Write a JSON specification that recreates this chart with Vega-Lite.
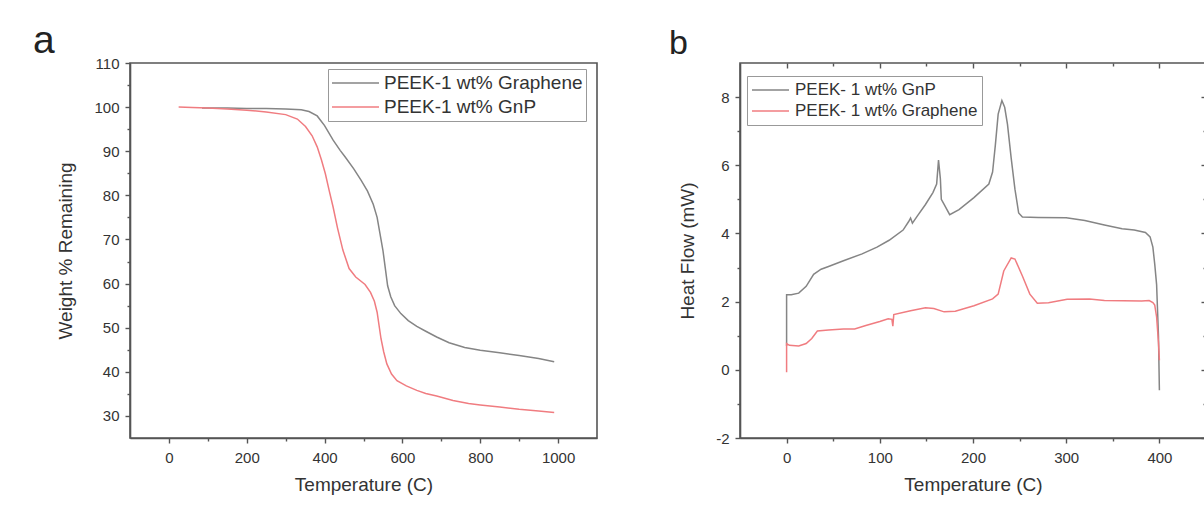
{
  "$schema": "https://vega.github.io/schema/vega-lite/v6.json",
  "background": "white",
  "padding": {"left": 32, "top": 21, "right": 0, "bottom": 0},
  "config": {
    "font": "Liberation Sans",
    "view": {"stroke": "#555", "strokeWidth": 1.6},
    "axis": {
      "grid": false,
      "domainColor": "#555", "domainWidth": 1.6,
      "tickColor": "#555", "tickWidth": 1.4,
      "labelFont": "Liberation Sans", "labelFontSize": 15, "labelColor": "#333",
      "titleFont": "Liberation Sans", "titleFontSize": 19, "titleFontWeight": "normal", "titleColor": "#333"
    },
    "legend": {
      "labelFont": "Liberation Sans", "labelColor": "#333", "labelLimit": 400,
      "strokeColor": "#999", "fillColor": "white", "symbolStrokeWidth": 1.5, "symbolType": "stroke", "symbolOffset": 0
    }
  },
  "datasets": {
    "tga": [
      {"series": "PEEK-1 wt% Graphene", "temp": 85, "weight": 99.8},
      {"series": "PEEK-1 wt% Graphene", "temp": 150, "weight": 99.8},
      {"series": "PEEK-1 wt% Graphene", "temp": 200, "weight": 99.7},
      {"series": "PEEK-1 wt% Graphene", "temp": 250, "weight": 99.7},
      {"series": "PEEK-1 wt% Graphene", "temp": 300, "weight": 99.6},
      {"series": "PEEK-1 wt% Graphene", "temp": 340, "weight": 99.4},
      {"series": "PEEK-1 wt% Graphene", "temp": 360, "weight": 99.0},
      {"series": "PEEK-1 wt% Graphene", "temp": 381, "weight": 98.0},
      {"series": "PEEK-1 wt% Graphene", "temp": 400, "weight": 95.8},
      {"series": "PEEK-1 wt% Graphene", "temp": 422, "weight": 92.5},
      {"series": "PEEK-1 wt% Graphene", "temp": 440, "weight": 90.2},
      {"series": "PEEK-1 wt% Graphene", "temp": 453, "weight": 88.7},
      {"series": "PEEK-1 wt% Graphene", "temp": 475, "weight": 86.0},
      {"series": "PEEK-1 wt% Graphene", "temp": 494, "weight": 83.4},
      {"series": "PEEK-1 wt% Graphene", "temp": 510, "weight": 81.0},
      {"series": "PEEK-1 wt% Graphene", "temp": 525, "weight": 78.0},
      {"series": "PEEK-1 wt% Graphene", "temp": 535, "weight": 75.0},
      {"series": "PEEK-1 wt% Graphene", "temp": 542, "weight": 71.5},
      {"series": "PEEK-1 wt% Graphene", "temp": 550, "weight": 67.5},
      {"series": "PEEK-1 wt% Graphene", "temp": 556, "weight": 63.5},
      {"series": "PEEK-1 wt% Graphene", "temp": 562, "weight": 59.5},
      {"series": "PEEK-1 wt% Graphene", "temp": 570, "weight": 57.0},
      {"series": "PEEK-1 wt% Graphene", "temp": 580, "weight": 55.0},
      {"series": "PEEK-1 wt% Graphene", "temp": 596, "weight": 53.2},
      {"series": "PEEK-1 wt% Graphene", "temp": 615, "weight": 51.6},
      {"series": "PEEK-1 wt% Graphene", "temp": 637, "weight": 50.3},
      {"series": "PEEK-1 wt% Graphene", "temp": 660, "weight": 49.2},
      {"series": "PEEK-1 wt% Graphene", "temp": 688, "weight": 47.9},
      {"series": "PEEK-1 wt% Graphene", "temp": 720, "weight": 46.6},
      {"series": "PEEK-1 wt% Graphene", "temp": 760, "weight": 45.5},
      {"series": "PEEK-1 wt% Graphene", "temp": 800, "weight": 44.9},
      {"series": "PEEK-1 wt% Graphene", "temp": 850, "weight": 44.3},
      {"series": "PEEK-1 wt% Graphene", "temp": 900, "weight": 43.7},
      {"series": "PEEK-1 wt% Graphene", "temp": 950, "weight": 43.0},
      {"series": "PEEK-1 wt% Graphene", "temp": 990, "weight": 42.3},
      {"series": "PEEK-1 wt% GnP", "temp": 25, "weight": 100.0},
      {"series": "PEEK-1 wt% GnP", "temp": 60, "weight": 99.9},
      {"series": "PEEK-1 wt% GnP", "temp": 100, "weight": 99.8},
      {"series": "PEEK-1 wt% GnP", "temp": 150, "weight": 99.6},
      {"series": "PEEK-1 wt% GnP", "temp": 200, "weight": 99.3},
      {"series": "PEEK-1 wt% GnP", "temp": 250, "weight": 98.9},
      {"series": "PEEK-1 wt% GnP", "temp": 300, "weight": 98.3},
      {"series": "PEEK-1 wt% GnP", "temp": 330, "weight": 97.3},
      {"series": "PEEK-1 wt% GnP", "temp": 351, "weight": 95.6},
      {"series": "PEEK-1 wt% GnP", "temp": 368, "weight": 93.5},
      {"series": "PEEK-1 wt% GnP", "temp": 381, "weight": 91.0},
      {"series": "PEEK-1 wt% GnP", "temp": 392, "weight": 88.0},
      {"series": "PEEK-1 wt% GnP", "temp": 402, "weight": 84.9},
      {"series": "PEEK-1 wt% GnP", "temp": 412, "weight": 81.0},
      {"series": "PEEK-1 wt% GnP", "temp": 422, "weight": 77.3},
      {"series": "PEEK-1 wt% GnP", "temp": 433, "weight": 72.7},
      {"series": "PEEK-1 wt% GnP", "temp": 447, "weight": 67.6},
      {"series": "PEEK-1 wt% GnP", "temp": 463, "weight": 63.4},
      {"series": "PEEK-1 wt% GnP", "temp": 480, "weight": 61.5},
      {"series": "PEEK-1 wt% GnP", "temp": 504, "weight": 59.8},
      {"series": "PEEK-1 wt% GnP", "temp": 518, "weight": 58.0},
      {"series": "PEEK-1 wt% GnP", "temp": 528, "weight": 56.0},
      {"series": "PEEK-1 wt% GnP", "temp": 535, "weight": 53.5},
      {"series": "PEEK-1 wt% GnP", "temp": 540, "weight": 50.5},
      {"series": "PEEK-1 wt% GnP", "temp": 545, "weight": 47.5},
      {"series": "PEEK-1 wt% GnP", "temp": 552, "weight": 44.5},
      {"series": "PEEK-1 wt% GnP", "temp": 560, "weight": 41.8},
      {"series": "PEEK-1 wt% GnP", "temp": 572, "weight": 39.5},
      {"series": "PEEK-1 wt% GnP", "temp": 586, "weight": 38.0},
      {"series": "PEEK-1 wt% GnP", "temp": 610, "weight": 36.8},
      {"series": "PEEK-1 wt% GnP", "temp": 637, "weight": 35.8},
      {"series": "PEEK-1 wt% GnP", "temp": 660, "weight": 35.1},
      {"series": "PEEK-1 wt% GnP", "temp": 688, "weight": 34.5},
      {"series": "PEEK-1 wt% GnP", "temp": 730, "weight": 33.5},
      {"series": "PEEK-1 wt% GnP", "temp": 770, "weight": 32.8},
      {"series": "PEEK-1 wt% GnP", "temp": 800, "weight": 32.5},
      {"series": "PEEK-1 wt% GnP", "temp": 850, "weight": 32.0},
      {"series": "PEEK-1 wt% GnP", "temp": 900, "weight": 31.5},
      {"series": "PEEK-1 wt% GnP", "temp": 950, "weight": 31.1},
      {"series": "PEEK-1 wt% GnP", "temp": 990, "weight": 30.8}
    ],
    "dsc": [
      {"series": "PEEK- 1 wt% GnP", "temp": 0, "flow": 0.7},
      {"series": "PEEK- 1 wt% GnP", "temp": 0, "flow": 2.2},
      {"series": "PEEK- 1 wt% GnP", "temp": 5, "flow": 2.2},
      {"series": "PEEK- 1 wt% GnP", "temp": 13, "flow": 2.25},
      {"series": "PEEK- 1 wt% GnP", "temp": 21, "flow": 2.45},
      {"series": "PEEK- 1 wt% GnP", "temp": 29, "flow": 2.8},
      {"series": "PEEK- 1 wt% GnP", "temp": 37, "flow": 2.95},
      {"series": "PEEK- 1 wt% GnP", "temp": 45, "flow": 3.03},
      {"series": "PEEK- 1 wt% GnP", "temp": 61, "flow": 3.2},
      {"series": "PEEK- 1 wt% GnP", "temp": 81, "flow": 3.4},
      {"series": "PEEK- 1 wt% GnP", "temp": 97, "flow": 3.6},
      {"series": "PEEK- 1 wt% GnP", "temp": 110, "flow": 3.8},
      {"series": "PEEK- 1 wt% GnP", "temp": 125, "flow": 4.1},
      {"series": "PEEK- 1 wt% GnP", "temp": 131, "flow": 4.35},
      {"series": "PEEK- 1 wt% GnP", "temp": 133, "flow": 4.45},
      {"series": "PEEK- 1 wt% GnP", "temp": 135, "flow": 4.3},
      {"series": "PEEK- 1 wt% GnP", "temp": 140, "flow": 4.5},
      {"series": "PEEK- 1 wt% GnP", "temp": 149, "flow": 4.85},
      {"series": "PEEK- 1 wt% GnP", "temp": 157, "flow": 5.2},
      {"series": "PEEK- 1 wt% GnP", "temp": 161, "flow": 5.45},
      {"series": "PEEK- 1 wt% GnP", "temp": 163, "flow": 6.15},
      {"series": "PEEK- 1 wt% GnP", "temp": 165, "flow": 5.6},
      {"series": "PEEK- 1 wt% GnP", "temp": 166, "flow": 5.0},
      {"series": "PEEK- 1 wt% GnP", "temp": 169, "flow": 4.85},
      {"series": "PEEK- 1 wt% GnP", "temp": 175, "flow": 4.55},
      {"series": "PEEK- 1 wt% GnP", "temp": 185, "flow": 4.7},
      {"series": "PEEK- 1 wt% GnP", "temp": 201, "flow": 5.05},
      {"series": "PEEK- 1 wt% GnP", "temp": 217, "flow": 5.45},
      {"series": "PEEK- 1 wt% GnP", "temp": 221, "flow": 5.8},
      {"series": "PEEK- 1 wt% GnP", "temp": 224, "flow": 6.6},
      {"series": "PEEK- 1 wt% GnP", "temp": 227, "flow": 7.5},
      {"series": "PEEK- 1 wt% GnP", "temp": 231, "flow": 7.9},
      {"series": "PEEK- 1 wt% GnP", "temp": 234, "flow": 7.7},
      {"series": "PEEK- 1 wt% GnP", "temp": 237, "flow": 7.2},
      {"series": "PEEK- 1 wt% GnP", "temp": 241, "flow": 6.2},
      {"series": "PEEK- 1 wt% GnP", "temp": 245, "flow": 5.3},
      {"series": "PEEK- 1 wt% GnP", "temp": 249, "flow": 4.6},
      {"series": "PEEK- 1 wt% GnP", "temp": 253, "flow": 4.48},
      {"series": "PEEK- 1 wt% GnP", "temp": 270, "flow": 4.47},
      {"series": "PEEK- 1 wt% GnP", "temp": 300, "flow": 4.46},
      {"series": "PEEK- 1 wt% GnP", "temp": 320, "flow": 4.38},
      {"series": "PEEK- 1 wt% GnP", "temp": 341, "flow": 4.25},
      {"series": "PEEK- 1 wt% GnP", "temp": 360, "flow": 4.14},
      {"series": "PEEK- 1 wt% GnP", "temp": 373, "flow": 4.1},
      {"series": "PEEK- 1 wt% GnP", "temp": 385, "flow": 4.03},
      {"series": "PEEK- 1 wt% GnP", "temp": 390, "flow": 3.9},
      {"series": "PEEK- 1 wt% GnP", "temp": 393, "flow": 3.6},
      {"series": "PEEK- 1 wt% GnP", "temp": 395, "flow": 3.1},
      {"series": "PEEK- 1 wt% GnP", "temp": 397, "flow": 2.5},
      {"series": "PEEK- 1 wt% GnP", "temp": 399, "flow": 1.0},
      {"series": "PEEK- 1 wt% GnP", "temp": 400, "flow": -0.6},
      {"series": "PEEK- 1 wt% Graphene", "temp": 0, "flow": -0.07},
      {"series": "PEEK- 1 wt% Graphene", "temp": 0, "flow": 0.77},
      {"series": "PEEK- 1 wt% Graphene", "temp": 3, "flow": 0.72},
      {"series": "PEEK- 1 wt% Graphene", "temp": 13, "flow": 0.7},
      {"series": "PEEK- 1 wt% Graphene", "temp": 21, "flow": 0.77},
      {"series": "PEEK- 1 wt% Graphene", "temp": 27, "flow": 0.92},
      {"series": "PEEK- 1 wt% Graphene", "temp": 33, "flow": 1.14},
      {"series": "PEEK- 1 wt% Graphene", "temp": 45, "flow": 1.17},
      {"series": "PEEK- 1 wt% Graphene", "temp": 61, "flow": 1.2},
      {"series": "PEEK- 1 wt% Graphene", "temp": 73, "flow": 1.2},
      {"series": "PEEK- 1 wt% Graphene", "temp": 85, "flow": 1.3},
      {"series": "PEEK- 1 wt% Graphene", "temp": 100, "flow": 1.42},
      {"series": "PEEK- 1 wt% Graphene", "temp": 109, "flow": 1.5},
      {"series": "PEEK- 1 wt% Graphene", "temp": 113, "flow": 1.48},
      {"series": "PEEK- 1 wt% Graphene", "temp": 114, "flow": 1.28},
      {"series": "PEEK- 1 wt% Graphene", "temp": 115, "flow": 1.62},
      {"series": "PEEK- 1 wt% Graphene", "temp": 133, "flow": 1.73},
      {"series": "PEEK- 1 wt% Graphene", "temp": 149, "flow": 1.82},
      {"series": "PEEK- 1 wt% Graphene", "temp": 158, "flow": 1.8},
      {"series": "PEEK- 1 wt% Graphene", "temp": 169, "flow": 1.7},
      {"series": "PEEK- 1 wt% Graphene", "temp": 181, "flow": 1.72},
      {"series": "PEEK- 1 wt% Graphene", "temp": 201, "flow": 1.88},
      {"series": "PEEK- 1 wt% Graphene", "temp": 221, "flow": 2.08},
      {"series": "PEEK- 1 wt% Graphene", "temp": 227, "flow": 2.22},
      {"series": "PEEK- 1 wt% Graphene", "temp": 233, "flow": 2.9},
      {"series": "PEEK- 1 wt% Graphene", "temp": 241, "flow": 3.28},
      {"series": "PEEK- 1 wt% Graphene", "temp": 245, "flow": 3.25},
      {"series": "PEEK- 1 wt% Graphene", "temp": 253, "flow": 2.75},
      {"series": "PEEK- 1 wt% Graphene", "temp": 261, "flow": 2.22},
      {"series": "PEEK- 1 wt% Graphene", "temp": 269, "flow": 1.95},
      {"series": "PEEK- 1 wt% Graphene", "temp": 281, "flow": 1.97},
      {"series": "PEEK- 1 wt% Graphene", "temp": 301, "flow": 2.07},
      {"series": "PEEK- 1 wt% Graphene", "temp": 325, "flow": 2.08},
      {"series": "PEEK- 1 wt% Graphene", "temp": 341, "flow": 2.03},
      {"series": "PEEK- 1 wt% Graphene", "temp": 381, "flow": 2.02},
      {"series": "PEEK- 1 wt% Graphene", "temp": 389, "flow": 2.03},
      {"series": "PEEK- 1 wt% Graphene", "temp": 393, "flow": 1.97},
      {"series": "PEEK- 1 wt% Graphene", "temp": 395, "flow": 1.9},
      {"series": "PEEK- 1 wt% Graphene", "temp": 397, "flow": 1.55},
      {"series": "PEEK- 1 wt% Graphene", "temp": 399, "flow": 0.8},
      {"series": "PEEK- 1 wt% Graphene", "temp": 400, "flow": 0.28}
    ]
  },
  "bounds": "flush",
  "spacing": 143,
  "resolve": {"scale": {"x": "independent", "y": "independent", "color": "independent"}, "legend": {"color": "independent"}},
  "hconcat": [
    {
      "width": 467,
      "height": 375,
      "data": {"name": "tga"},
      "title": {"text": "a", "anchor": "start", "frame": "group", "dx": -97, "offset": -36, "baseline": "alphabetic", "fontSize": 39, "fontWeight": "normal", "font": "Liberation Sans", "color": "#222"},
      "resolve": {"axis": {"x": "independent", "y": "independent"}},
      "layer": [
        {
          "mark": {"type": "line", "strokeWidth": 1.5, "clip": true},
          "encoding": {
            "x": {"field": "temp", "type": "quantitative",
                  "scale": {"domain": [-100, 1100], "nice": false, "zero": false},
                  "axis": {"orient": "bottom", "title": "Temperature (C)", "format": "d", "values": [0, 200, 400, 600, 800, 1000], "tickSize": 5, "labelPadding": 7, "titlePadding": 10}},
            "y": {"field": "weight", "type": "quantitative",
                  "scale": {"domain": [25, 110], "nice": false, "zero": false},
                  "axis": {"orient": "left", "title": "Weight % Remaining", "values": [30, 40, 50, 60, 70, 80, 90, 100, 110], "tickSize": 5, "labelPadding": 6, "titlePadding": 18}},
            "color": {"field": "series", "type": "nominal",
                      "scale": {"domain": ["PEEK-1 wt% Graphene", "PEEK-1 wt% GnP"], "range": ["#858585", "#f07c80"]},
                      "legend": {"title": null, "orient": "none", "legendX": 198, "legendY": 6, "symbolSize": 2209, "clipHeight": 22, "rowPadding": 2, "labelFontSize": 19, "labelOffset": 4, "padding": 3}},
            "order": {"value": null}
          }
        },
        {
          "mark": {"type": "point", "opacity": 0},
          "encoding": {
            "x": {"field": "temp", "type": "quantitative",
                  "axis": {"orient": "bottom", "title": null, "labels": false, "domain": false, "values": [100, 300, 500, 700, 900], "tickSize": 3}},
            "y": {"field": "weight", "type": "quantitative",
                  "axis": {"orient": "left", "title": null, "labels": false, "domain": false, "values": [35, 45, 55, 65, 75, 85, 95, 105], "tickSize": 3}}
          }
        }
      ]
    },
    {
      "width": 466,
      "height": 375,
      "data": {"name": "dsc"},
      "title": {"text": "b", "anchor": "start", "frame": "group", "dx": -71, "offset": -26, "baseline": "alphabetic", "fontSize": 34, "fontWeight": "normal", "font": "Liberation Sans", "color": "#222"},
      "resolve": {"axis": {"x": "independent", "y": "independent"}},
      "layer": [
        {
          "mark": {"type": "line", "strokeWidth": 1.5, "clip": true},
          "encoding": {
            "x": {"field": "temp", "type": "quantitative",
                  "scale": {"domain": [-50, 450], "nice": false, "zero": false},
                  "axis": {"orient": "bottom", "title": "Temperature (C)", "values": [0, 100, 200, 300, 400], "tickSize": 5, "labelPadding": 7, "titlePadding": 10}},
            "y": {"field": "flow", "type": "quantitative",
                  "scale": {"domain": [-2, 9], "nice": false, "zero": false},
                  "axis": {"orient": "left", "title": "Heat Flow (mW)", "values": [-2, 0, 2, 4, 6, 8], "labelExpr": "'' + datum.value", "tickSize": 5, "labelPadding": 6, "titlePadding": 18}},
            "color": {"field": "series", "type": "nominal",
                      "scale": {"domain": ["PEEK- 1 wt% GnP", "PEEK- 1 wt% Graphene"], "range": ["#858585", "#f07c80"]},
                      "legend": {"title": null, "orient": "none", "legendX": 7, "legendY": 13, "symbolSize": 1369, "clipHeight": 20, "rowPadding": 1, "labelFontSize": 17, "labelOffset": 5, "padding": 4}},
            "order": {"value": null}
          }
        },
        {
          "mark": {"type": "point", "opacity": 0},
          "encoding": {
            "x": {"field": "temp", "type": "quantitative",
                  "axis": {"orient": "bottom", "title": null, "labels": false, "domain": false, "values": [50, 150, 250, 350], "tickSize": 3}},
            "y": {"field": "flow", "type": "quantitative",
                  "axis": {"orient": "left", "title": null, "labels": false, "domain": false, "values": [-1, 1, 3, 5, 7], "tickSize": 3}}
          }
        },
        {
          "mark": {"type": "point", "opacity": 0},
          "encoding": {
            "x": {"field": "temp", "type": "quantitative",
                  "axis": {"orient": "top", "title": null, "labels": false, "domain": false, "values": [0, 100, 200, 300, 400], "tickSize": -5}},
            "y": {"field": "flow", "type": "quantitative",
                  "axis": {"orient": "right", "title": null, "labels": false, "domain": false, "values": [-2, 0, 2, 4, 6, 8], "tickSize": -5}}
          }
        },
        {
          "mark": {"type": "point", "opacity": 0},
          "encoding": {
            "x": {"field": "temp", "type": "quantitative",
                  "axis": {"orient": "top", "title": null, "labels": false, "domain": false, "values": [50, 150, 250, 350], "tickSize": -3}},
            "y": {"field": "flow", "type": "quantitative",
                  "axis": {"orient": "right", "title": null, "labels": false, "domain": false, "values": [-1, 1, 3, 5, 7], "tickSize": -3}}
          }
        }
      ]
    }
  ]
}
